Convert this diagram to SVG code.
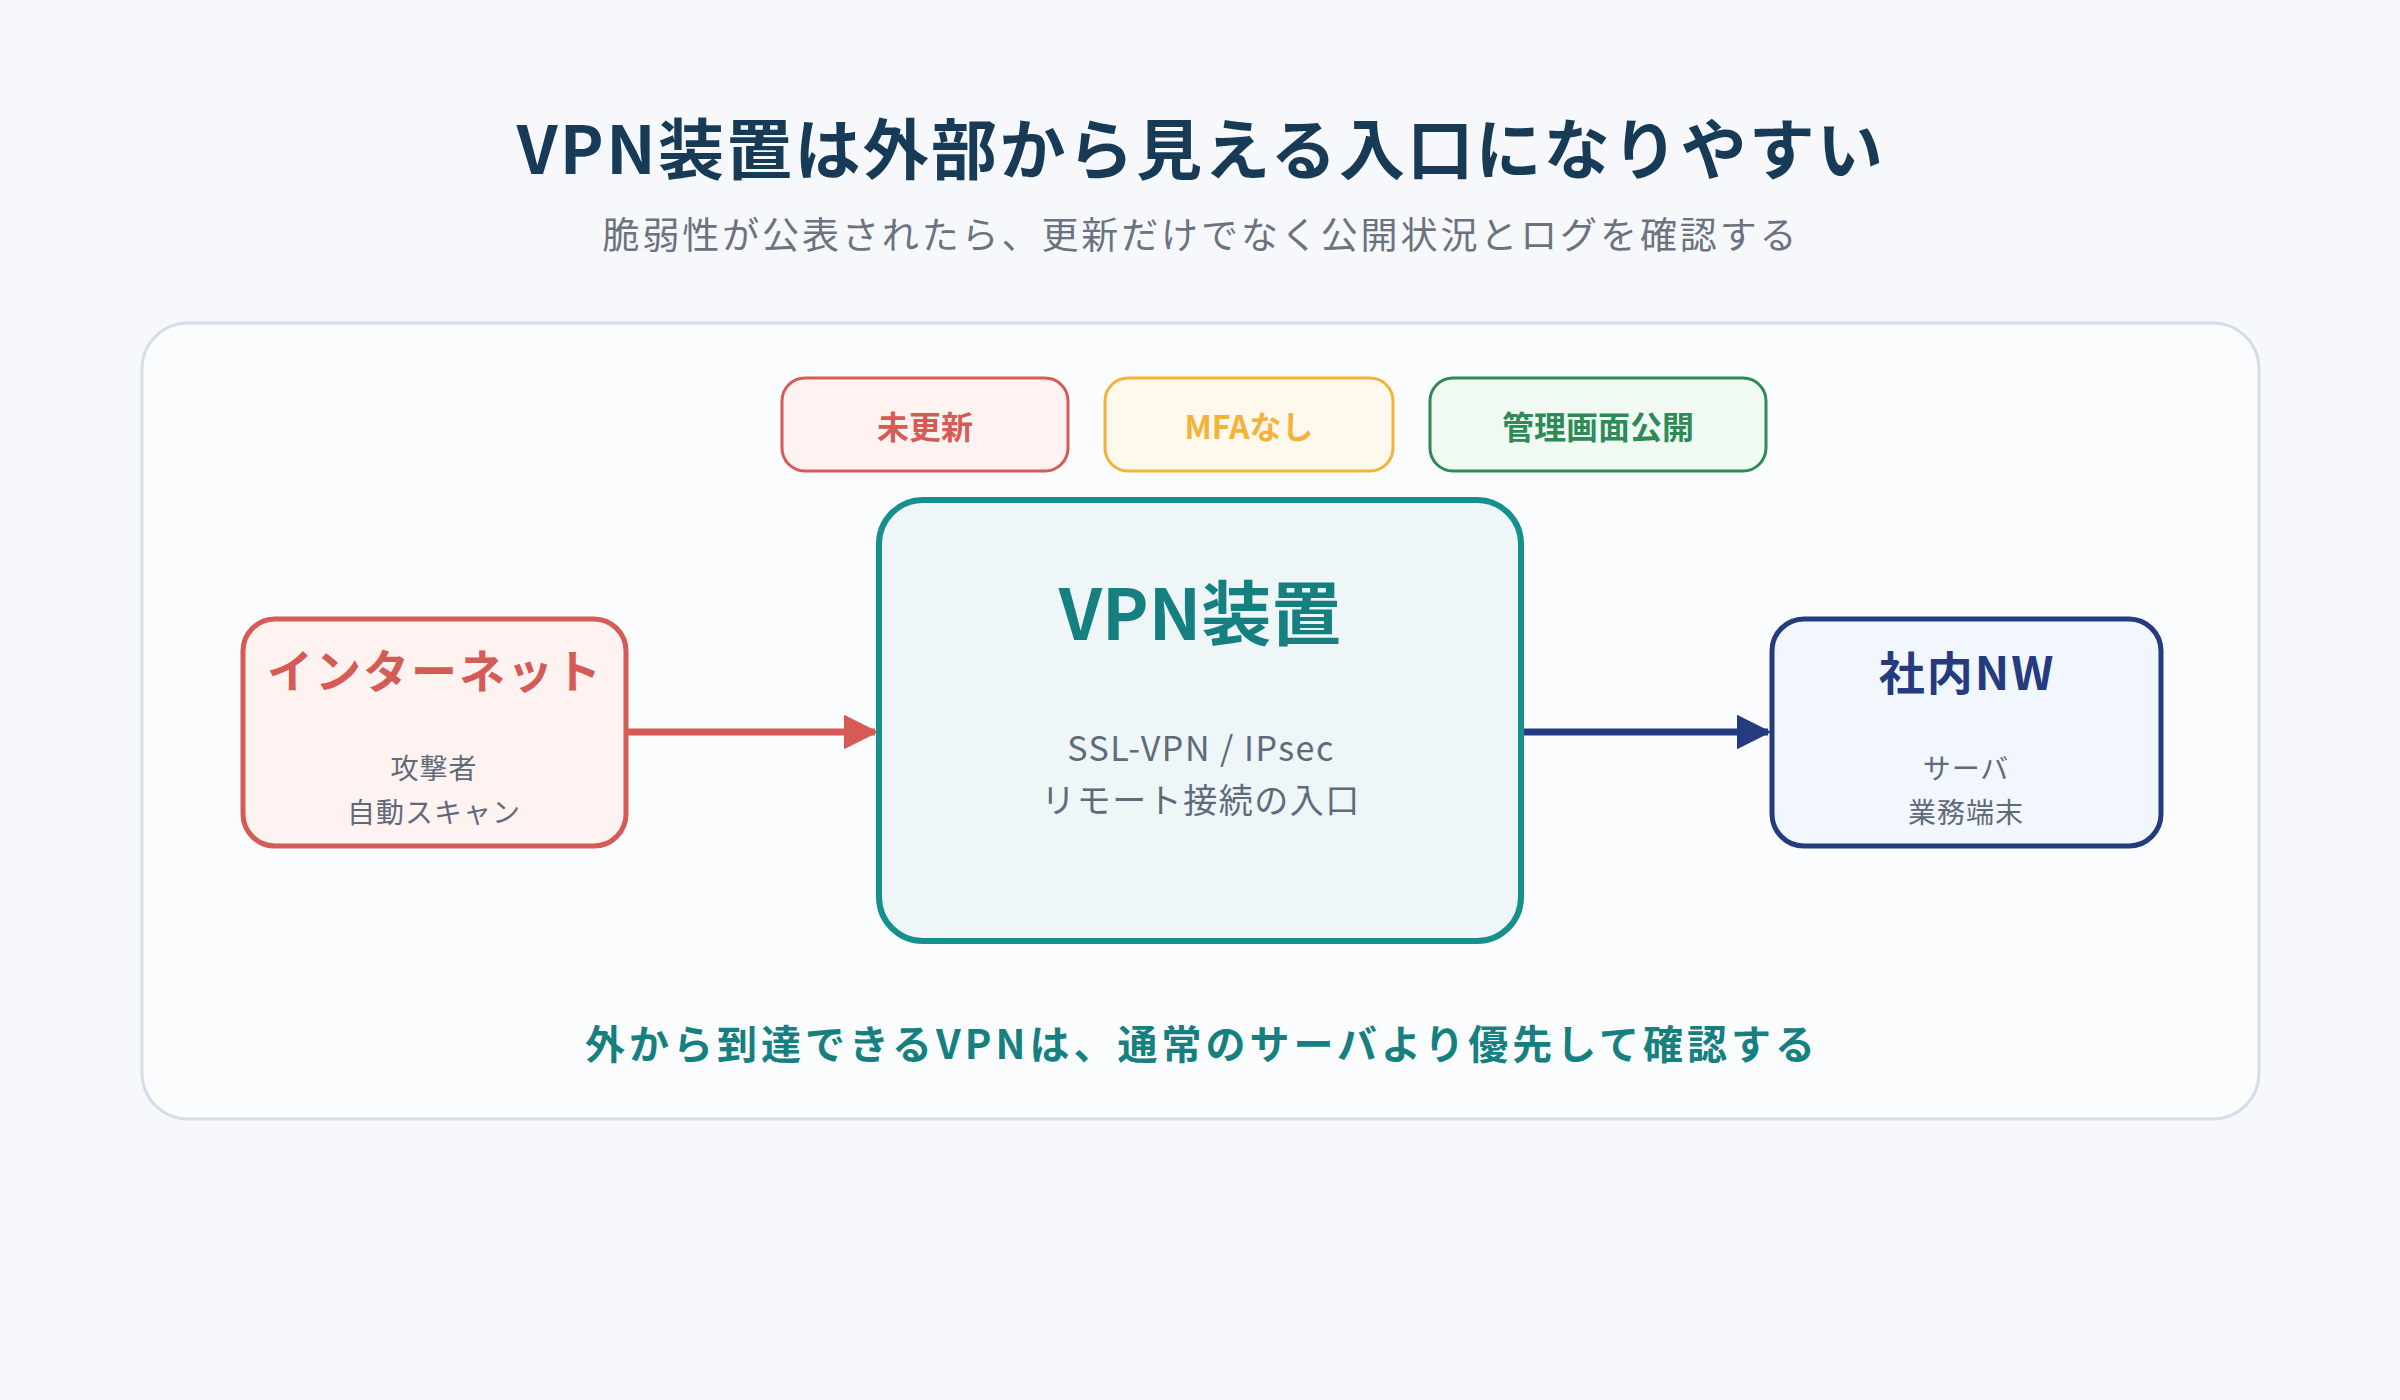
<svg xmlns="http://www.w3.org/2000/svg" width="2400" height="1400" viewBox="0 0 2400 1400">
<defs>
<style>
text{font-family:"Noto Sans CJK JP","Noto Sans",sans-serif;text-anchor:middle;dominant-baseline:central}
.tag{font-size:32px;font-weight:700}
.sub{font-size:28px;fill:#5f6b7a;letter-spacing:1px}
.ntitle{font-size:46px;font-weight:700;letter-spacing:2px}
</style>
<marker id="ar" viewBox="0 0 10 10" refX="9" refY="5" markerWidth="5" markerHeight="5" orient="auto" markerUnits="strokeWidth"><path d="M0,0L10,5L0,10z" fill="#d65a55"/></marker>
<marker id="an" viewBox="0 0 10 10" refX="9" refY="5" markerWidth="5" markerHeight="5" orient="auto" markerUnits="strokeWidth"><path d="M0,0L10,5L0,10z" fill="#253b80"/></marker>
</defs>
<rect width="2400" height="1400" fill="#f6f8fc"/>
<text x="1201" y="145" font-size="66" font-weight="700" fill="#173a56" letter-spacing="2.3">VPN装置は外部から見える入口になりやすい</text>
<text x="1201" y="233" font-size="37" fill="#6b7280" letter-spacing="2.9">脆弱性が公表されたら、更新だけでなく公開状況とログを確認する</text>
<rect x="142" y="323" width="2117" height="796" rx="46" fill="#fbfcfe" stroke="#d5dde8" stroke-width="3"/>
<g id="tag1"><rect x="782" y="378" width="286" height="93" rx="23" fill="#fff3f2" stroke="#d65a55" stroke-width="3"/><text class="tag" x="925" y="425" fill="#d65a55">未更新</text></g>
<g id="tag2"><rect x="1105" y="378" width="288" height="93" rx="23" fill="#fff8ec" stroke="#f5b23a" stroke-width="3"/><text class="tag" x="1249" y="425" fill="#f5b23a">MFAなし</text></g>
<g id="tag3"><rect x="1430" y="378" width="336" height="93" rx="23" fill="#f1f9f3" stroke="#2e8b57" stroke-width="3"/><text class="tag" x="1598" y="425" fill="#2e8b57">管理画面公開</text></g>
<g id="connectors">
<line x1="626" y1="732" x2="875" y2="732" stroke="#d65a55" stroke-width="7" marker-end="url(#ar)"/>
<line x1="1521" y1="732" x2="1768" y2="732" stroke="#253b80" stroke-width="7" marker-end="url(#an)"/>
</g>
<g id="vpn"><rect x="879" y="500" width="642" height="441" rx="44" fill="#eef6f8" stroke="#168f8f" stroke-width="6"/>
<text x="1200" y="609" font-size="70" font-weight="700" fill="#168080">VPN装置</text>
<text x="1201" y="746" font-size="34" fill="#5f6b7a" letter-spacing="1.5">SSL-VPN / IPsec</text>
<text x="1201" y="798" font-size="34" fill="#5f6b7a" letter-spacing="1.5">リモート接続の入口</text></g>
<g id="internet"><rect x="243" y="619" width="383" height="227" rx="32" fill="#fff3f2" stroke="#d65a55" stroke-width="5"/>
<text class="ntitle" x="435" y="668" fill="#d65a55">インターネット</text>
<text class="sub" x="434" y="767">攻撃者</text><text class="sub" x="434" y="811">自動スキャン</text></g>
<g id="lan"><rect x="1772" y="619" width="389" height="227" rx="32" fill="#f2f6fd" stroke="#253b80" stroke-width="5"/>
<text class="ntitle" x="1967" y="670" fill="#253b80">社内NW</text>
<text class="sub" x="1966" y="767">サーバ</text><text class="sub" x="1966" y="811">業務端末</text></g>
<text x="1202" y="1042" font-size="40" font-weight="700" fill="#168080" letter-spacing="4">外から到達できるVPNは、通常のサーバより優先して確認する</text>
</svg>
